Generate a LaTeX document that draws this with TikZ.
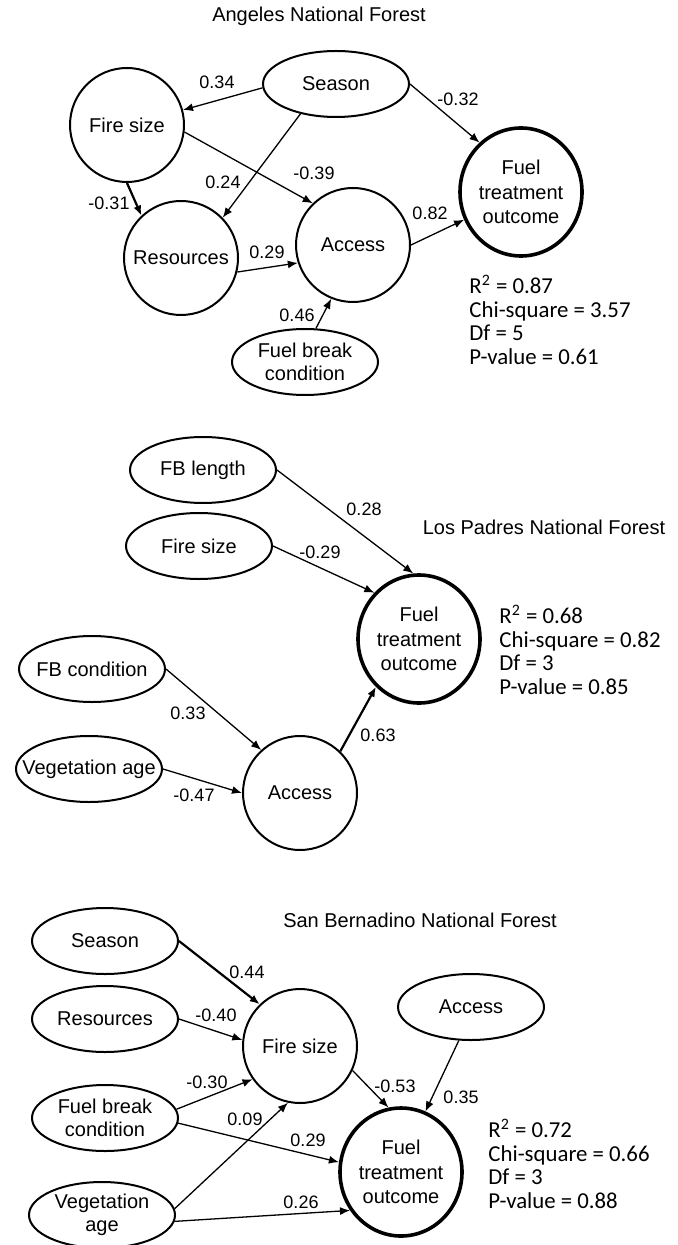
\documentclass[tikz,border=0pt]{standalone}
\usepackage{fontspec}
\setmainfont{Liberation Sans}
\newfontfamily\statfont{Carlito}
\usetikzlibrary{arrows.meta, shapes.geometric}

\begin{document}
\begin{tikzpicture}[x=0.5pt, y=-0.5pt,
        var/.style={ellipse, draw, line width=1pt, minimum width=73pt, minimum height=33pt, inner xsep=-8pt, inner ysep=-2pt, align=center, font=\fontsize{10}{11.5}\selectfont},
        roundvar/.style={var, minimum width=57pt, minimum height=57pt},
        outcome/.style={var, line width=1.8pt, minimum width=61pt, minimum height=64pt, font=\fontsize{10}{12.2}\selectfont},
        coef/.style={inner sep=0pt, font=\fontsize{9}{10}\selectfont},
        stats/.style={anchor=west, align=left, inner sep=0pt, font=\statfont\fontsize{11.4}{11.9}\selectfont},
        title/.style={inner sep=0pt, font=\fontsize{10}{12}\selectfont},
        line/.style={draw, -{Latex[length=5pt, width=4pt]}, line width=0.65pt},
        boldline/.style={line, line width=1.1pt}]
        \useasboundingbox (0,0) rectangle (677,1245);

        \node [title] (title1) at (319,16) {Angeles National Forest};
        \node [var] (season1) at (336,84) {Season};
        \node [roundvar] (fire1) at (127,125) {Fire size};
        \node [roundvar] (res1) at (181,258) {Resources};
        \node [roundvar] (acc1) at (353,245) {Access};
        \node [outcome] (out1) at (521,192) {Fuel\\treatment\\outcome};
        \node [var] (fb1) at (305,362) {Fuel break\\condition};
        \node [stats] (stats1) at (469,320) {R\textsuperscript{2} = 0.87\\Chi-square = 3.57\\Df = 5\\P-value = 0.61};

        \path [line] (season1.183) -- (fire1.15);
        \path [line] (season1.220) -- (res1.44);
        \path [line] (fire1.-7) -- (acc1.134);
        \path [boldline] (fire1.south) -- (res1.133);
        \path [line] (res1.-14) -- (acc1.198);
        \path [line] (season1.east) -- (out1.130);
        \path [line] (acc1.east) -- (out1.206);
        \path [line] (fb1.72) -- (acc1.248);

        \node [coef] at (217,82) {0.34};
        \node [coef] at (458,99) {-0.32};
        \node [coef] at (223,182) {0.24};
        \node [coef] at (314,173) {-0.39};
        \node [coef] at (109,203) {-0.31};
        \node [coef] at (267,252) {0.29};
        \node [coef] at (430,213) {0.82};
        \node [coef] at (297,315) {0.46};

        \node [title] (title2) at (544,527) {Los Padres National Forest};
        \node [var] (len2) at (203,470) {FB length};
        \node [var] (fire2) at (199,546) {Fire size};
        \node [outcome] (out2) at (419,639) {Fuel\\treatment\\outcome};
        \node [var] (cond2) at (92,669) {FB condition};
        \node [var] (veg2) at (89,769) {Vegetation age};
        \node [roundvar] (acc2) at (300,793) {Access};
        \node [stats] (stats2) at (499,650) {R\textsuperscript{2} = 0.68\\Chi-square = 0.82\\Df = 3\\P-value = 0.85};

        \path [line] (len2.east) -- (out2.95);
        \path [line] (fire2.east) -- (out2.134);
        \path [line] (cond2.east) -- (acc2.132);
        \path [line] (veg2.east) -- (acc2.west);
        \path [boldline] (acc2.46) -- (out2.228);

        \node [coef] at (364,509) {0.28};
        \node [coef] at (320,552) {-0.29};
        \node [coef] at (188,713) {0.33};
        \node [coef] at (378,735) {0.63};
        \node [coef] at (194,795) {-0.47};

        \node [title] (title3) at (420,920) {San Bernadino National Forest};
        \node [var] (season3) at (105,941) {Season};
        \node [var] (res3) at (105,1019) {Resources};
        \node [roundvar] (fire3) at (300,1046) {Fire size};
        \node [var] (acc3) at (471,1007) {Access};
        \node [var] (fb3) at (105,1118) {Fuel break\\condition};
        \node [var] (veg3) at (102,1215) {Vegetation\\age};
        \node [outcome] (out3) at (401,1172) {Fuel\\treatment\\outcome};
        \node [stats] (stats3) at (488,1164) {R\textsuperscript{2} = 0.72\\Chi-square = 0.66\\Df = 3\\P-value = 0.88};

        \path [boldline] (season3.east) -- (fire3.134);
        \path [line] (res3.east) -- (fire3.174);
        \path [line] (fb3.7) -- (fire3.215);
        \path [line] (fb3.-4) -- (out3.171);
        \path [line] (veg3.5) -- (fire3.258);
        \path [line] (veg3.-5) -- (out3.217);
        \path [line] (fire3.-25) -- (out3.101);
        \path [line] (acc3.250) -- (out3.68);

        \node [coef] at (247,972) {0.44};
        \node [coef] at (216,1015) {-0.40};
        \node [coef] at (207,1082) {-0.30};
        \node [coef] at (395,1086) {-0.53};
        \node [coef] at (461,1097) {0.35};
        \node [coef] at (245,1119) {0.09};
        \node [coef] at (308,1140) {0.29};
        \node [coef] at (301,1202) {0.26};
    \end{tikzpicture}
\end{document}
